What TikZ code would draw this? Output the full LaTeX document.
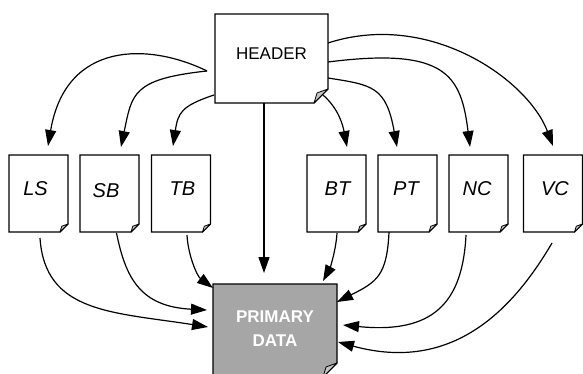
\documentclass[tikz,border=0pt]{standalone}
\usepackage{fontspec}
\setmainfont{Liberation Sans}
\usetikzlibrary{calc,arrows.meta}
\definecolor{prigray}{HTML}{A6A6A6}
\definecolor{curlgray}{HTML}{C4C4C4}
\tikzset{
  boxline/.style={line width=1.2pt, draw=black, line join=miter},
  curlline/.style={line width=0.8pt, draw=black, line join=round},
  docnode/.style={minimum width=59pt, minimum height=77pt, inner sep=0pt, outer sep=0pt, draw=none},
  doclabel/.style={inner sep=0pt, font=\fontsize{20}{24}\selectfont\itshape},
  hdrlabel/.style={inner sep=0pt, font=\fontsize{17}{20}\selectfont},
  prilabel/.style={inner sep=0pt, align=center, text=white, font=\fontsize{17}{24.5}\selectfont\bfseries},
  arr/.style={line width=1.2pt, -{Triangle[length=16pt,width=11pt]}},
}
\newcommand\notebox[3]{%
  \filldraw[fill=#3, boxline] (#1.north west) -- (#1.north east) -- ([yshift=#2]#1.south east) -- ([xshift=-#2]#1.south east) -- (#1.south west) -- cycle;
  \filldraw[fill=curlgray, curlline] ([yshift=#2]#1.south east) -- ([xshift=-#2]#1.south east) -- ([xshift=-0.78*#2, yshift=0.72*#2]#1.south east) -- cycle;}
\begin{document}
\begin{tikzpicture}[x=1pt,y=-1pt]
\clip (0,0) rectangle (583,374);
\fill[white] (0,0) rectangle (583,374);
% box nodes
\node[docnode, minimum width=113pt, minimum height=89pt] (hdr) at (271.5,58.5) {};
\node[docnode] (ls) at (38.5,193.5) {};
\node[docnode] (sb) at (109.5,193.5) {};
\node[docnode] (tb) at (181,193.5) {};
\node[docnode] (bt) at (336.5,193.5) {};
\node[docnode] (pt) at (407.5,193.5) {};
\node[docnode] (nc) at (478.5,193.5) {};
\node[docnode] (vc) at (553,193.5) {};
\node[docnode, minimum width=124pt, minimum height=93pt] (pri) at (275,330.5) {};
% outlines
\notebox{hdr}{14pt}{white}
\foreach \n in {ls,sb,tb,bt,pt,nc,vc} {\notebox{\n}{8pt}{white}}
\notebox{pri}{14pt}{prigray}
% labels
\node[hdrlabel] (hdr-t) at (271.5,54) {HEADER};
\node[doclabel] (ls-t) at (35.5,189) {LS};
\node[doclabel] (sb-t) at (106,191) {SB};
\node[doclabel] (tb-t) at (182.5,189) {TB};
\node[doclabel] (bt-t) at (337.5,189) {BT};
\node[doclabel] (pt-t) at (406,189) {PT};
\node[doclabel] (nc-t) at (477,189) {NC};
\node[doclabel] (vc-t) at (555,189) {VC};
\node[prilabel] (pri-t) at (275,328.5) {PRIMARY\\DATA};
% header to documents
\draw[arr] ($(hdr.west)+(-8,12.5)$) .. controls (150,43) and (66,40) .. ($(ls.north)+(9.5,-9)$);
\draw[arr] ($(hdr.west)+(-8,12.5)$) .. controls (132,79) and (132,94) .. ($(sb.north)+(11.5,-8)$);
\draw[arr] ($(hdr.south west)+(-1,-8)$) .. controls (181,106) and (178,113) .. ($(tb.north)+(-8,-9)$);
\draw[arr] ($(hdr.south)+(-7.5,0)$) -- ($(pri.north)+(-11,-11)$);
\draw[arr] ($(hdr.south east)+(-5,-8)$) .. controls (339,109) and (343,126) .. ($(bt.north)+(10.5,-8)$);
\draw[arr] ($(hdr.east)+(0,19.5)$) .. controls (372,85) and (386,86) .. ($(pt.north)+(-10.5,-8)$);
\draw[arr] ($(hdr.east)+(0,3.5)$) .. controls (446,47) and (461,75) .. ($(nc.north)+(-8.5,-8)$);
\draw[arr] ($(hdr.east)+(0,-15.5)$) .. controls (430,10) and (528,80) .. ($(vc.north)+(0,-9)$);
% documents to primary data
\draw[arr] ($(ls.south)+(1.5,6)$) .. controls (45,313) and (112,312) .. ($(pri.west)+(-5,-3.5)$);
\draw[arr] ($(sb.south)+(7,1)$) .. controls (125.6,277.7) and (140,306.6) .. ($(pri.west)+(-6,-20.5)$);
\draw[arr] ($(tb.south)+(6,3)$) .. controls (188,255) and (197,276) .. ($(pri.north west)+(0,4)$);
\draw[arr] ($(bt.south)+(0.5,1)$) .. controls (336,250) and (330,268) .. ($(pri.north east)+(-14,-3)$);
\draw[arr] ($(pt.south)+(-18.5,0)$) .. controls (387,276) and (376.5,282) .. ($(pri.east)+(0,-28.5)$);
\draw[arr] ($(nc.south)+(-12.5,3)$) .. controls (462.6,303) and (433,334) .. ($(pri.east)+(6,-5.5)$);
\draw[arr] ($(vc.south)+(-1,11)$) .. controls (515,306) and (455,374) .. ($(pri.east)+(1,11.5)$);
\end{tikzpicture}
\end{document}
